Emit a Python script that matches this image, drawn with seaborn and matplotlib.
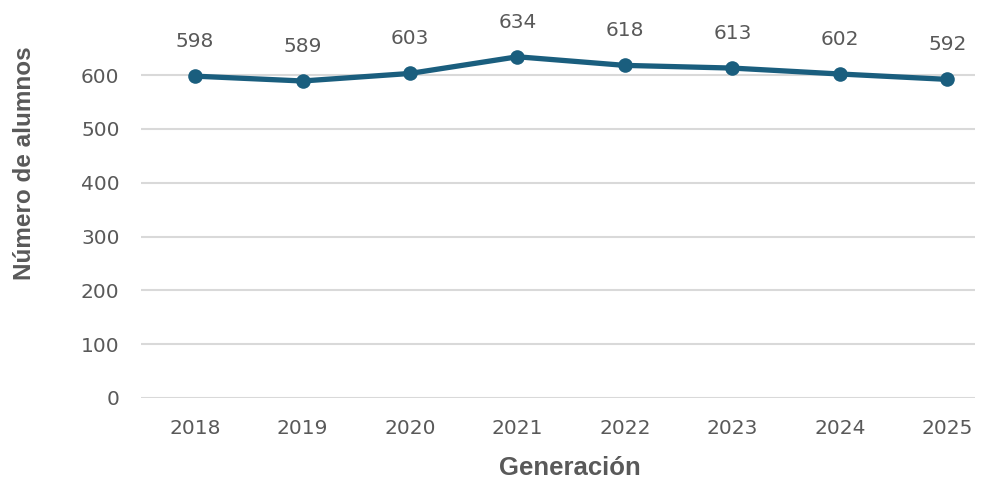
import matplotlib
matplotlib.use("Agg")
import numpy as np
import pandas as pd
import seaborn as sns
import matplotlib.pyplot as plt

years = ["2018", "2019", "2020", "2021", "2022", "2023", "2024", "2025"]
alumnos = [598, 589, 603, 634, 618, 613, 602, 592]
yticks = [0, 100, 200, 300, 400, 500, 600]

sns.set_theme(style="white")
plt.rcParams['font.family'] = ['DejaVu Sans']

df = pd.DataFrame({"Generación": years, "alumnos": alumnos})
df["pos"] = np.arange(len(df))

line_color = "#1A5E7E"
text_color = "#595959"
label_font = ['Liberation Sans', 'DejaVu Sans']

fig = plt.figure(figsize=(9.89, 4.83), dpi=100)
ax = fig.add_axes([0.1426, 0.176, 0.8434, 0.78])

sns.lineplot(data=df, x="pos", y="alumnos", ax=ax, color=line_color,
             linewidth=3.8, marker="o", markersize=10.5, markeredgewidth=0,
             zorder=3)

for x, y in zip(df["pos"], df["alumnos"]):
    ax.annotate(str(y), (x, y), xytext=(0, 25), textcoords="offset points",
                ha="center", va="center", fontsize=14.5, color=text_color)

ax.set_ylim(0, 700)
ax.set_xlim(-0.503, 7.26)
ax.set_yticks(yticks)
ax.set_xticks(df["pos"])
ax.set_xticklabels(years)
ax.yaxis.grid(True, color="#D9D9D9", linewidth=1.5)
ax.set_axisbelow(True)
for s in ax.spines.values():
    s.set_visible(False)
ax.tick_params(axis="both", length=0, labelsize=14.5, labelcolor=text_color)
ax.tick_params(axis="y", pad=15.5)
ax.tick_params(axis="x", pad=15)

ax.set_xlabel("Generación", fontsize=18.5, fontweight="bold", color=text_color,
              family=label_font, va="center")
ax.set_ylabel("Número de alumnos", fontsize=17.5, fontweight="bold", color=text_color,
              family=label_font, va="center")
# axis label centres in pixels from the reference, converted to axes fraction
ax.xaxis.set_label_coords((570 - 141) / 834, -(468 - 398) / 377)
ax.yaxis.set_label_coords(-(141 - 24) / 834, (398 - 163) / 377)

fig.savefig("out.png", dpi=100)
